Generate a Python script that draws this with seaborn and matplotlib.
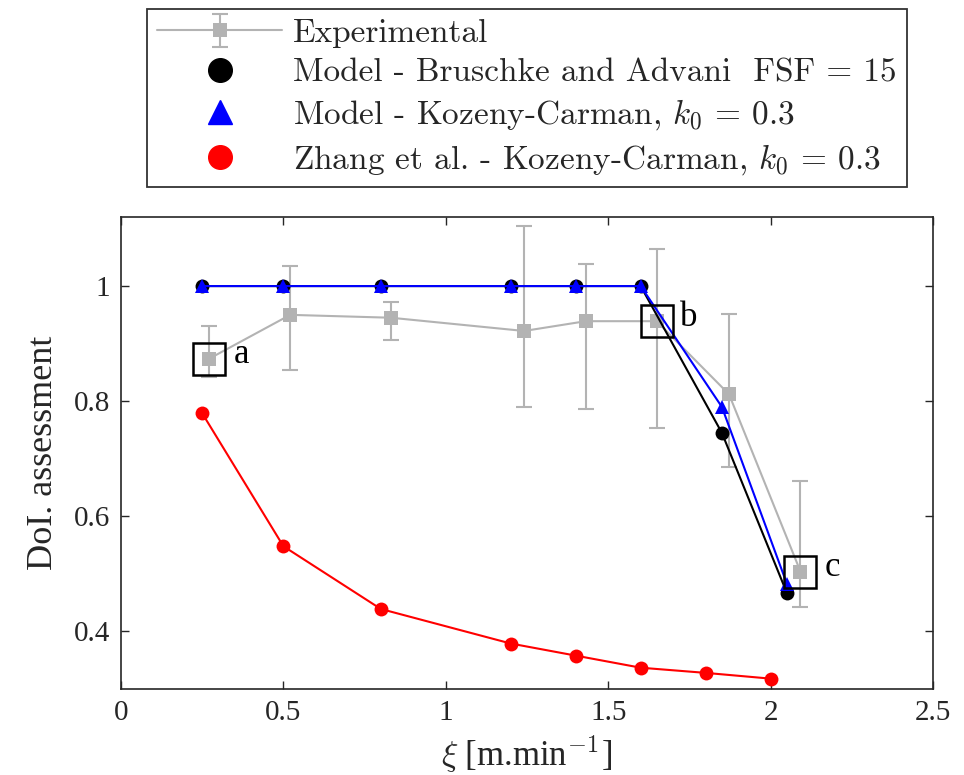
import numpy as np
import pandas as pd
import seaborn as sns
import matplotlib
matplotlib.use("Agg")
import matplotlib.pyplot as plt
from matplotlib.lines import Line2D

# ---------------- data ----------------
exp_x = [0.272, 0.521, 0.831, 1.241, 1.431, 1.649, 1.872, 2.092]
exp_y = [0.874, 0.950, 0.945, 0.922, 0.939, 0.939, 0.812, 0.504]
exp_lo = [0.842, 0.855, 0.906, 0.790, 0.787, 0.754, 0.685, 0.442]
exp_hi = [0.930, 1.035, 0.973, 1.104, 1.039, 1.064, 0.952, 0.662]

model_x = [0.25, 0.5, 0.8, 1.2, 1.4, 1.6, 1.85, 2.05]
bruschke_y = [1.0, 1.0, 1.0, 1.0, 1.0, 1.0, 0.745, 0.467]
kozeny_y = [1.0, 1.0, 1.0, 1.0, 1.0, 1.0, 0.790, 0.483]

zhang_x = [0.25, 0.5, 0.8, 1.2, 1.4, 1.6, 1.8, 2.0]
zhang_y = [0.779, 0.548, 0.439, 0.379, 0.358, 0.337, 0.328, 0.318]

mark_labels = ["a", "b", "c"]
mark_idx = [0, 5, 7]

xticks = [0, 0.5, 1, 1.5, 2, 2.5]
xtick_labels = ["0", "0.5", "1", "1.5", "2", "2.5"]
yticks = [0.4, 0.6, 0.8, 1.0]
ytick_labels = ["0.4", "0.6", "0.8", "1"]

legend_labels = [
    "Experimental",
    "Model - Bruschke and Advani  FSF = 15",
    "Model - Kozeny-Carman, $k_0$ = 0.3",
    "Zhang et al. - Kozeny-Carman, $k_0$ = 0.3",
]

# ---------------- style ----------------
sns.set_theme(style="ticks")
plt.rcParams["font.family"] = ["Liberation Serif", "DejaVu Serif"]
plt.rcParams["mathtext.fontset"] = "cm"
GRAY = "#b3b3b3"
TXT = "#262626"

fig = plt.figure(figsize=(9.64, 7.75), dpi=100)
ax = fig.add_axes([121 / 964, 1 - 689 / 775, 812 / 964, 472 / 775])

# experimental: error bars + line
yerr = [np.array(exp_y) - np.array(exp_lo), np.array(exp_hi) - np.array(exp_y)]
err = ax.errorbar(exp_x, exp_y, yerr=yerr, fmt="none", ecolor=GRAY,
                  elinewidth=1.5, capsize=6, capthick=1.5, zorder=2)
sns.lineplot(x=exp_x, y=exp_y, ax=ax, color=GRAY, marker="s", markersize=10,
             markeredgecolor=GRAY, markeredgewidth=0, linewidth=1.5, zorder=3)
exp_line = ax.lines[-1]

sns.lineplot(x=model_x, y=bruschke_y, ax=ax, color="black", marker="o",
             markersize=10, markeredgecolor="black", markeredgewidth=0,
             linewidth=1.5, zorder=4)
sns.lineplot(x=model_x, y=kozeny_y, ax=ax, color="#0000ff", marker="^",
             markersize=10, markeredgecolor="#0000ff", markeredgewidth=0,
             linewidth=1.5, zorder=5)
sns.lineplot(x=zhang_x, y=zhang_y, ax=ax, color="#ff0000", marker="o",
             markersize=10, markeredgecolor="#ff0000", markeredgewidth=0,
             linewidth=1.5, zorder=6)

# annotation boxes
bx = [exp_x[i] for i in mark_idx]
by = [exp_y[i] for i in mark_idx]
ax.plot(bx, by, ls="none", marker="s", markersize=23.5, markerfacecolor="none",
        markeredgecolor="black", markeredgewidth=1.8, zorder=7)
for lab, xv, yv in zip(mark_labels, bx, by):
    ax.annotate(lab, (xv, yv), xytext=(23, 3), textcoords="offset points",
                ha="center", va="center", fontsize=25, color="black",
                family="Liberation Serif")

# axes
ax.set_xlim(0, 2.5)
ax.set_ylim(0.3, 1.12)
ax.set_xticks(xticks)
ax.set_xticklabels(xtick_labels)
ax.set_yticks(yticks)
ax.set_yticklabels(ytick_labels)
ax.tick_params(direction="in", length=6, width=1, top=True, right=True,
               labelsize=21, colors=TXT, pad=8)
for s in ax.spines.values():
    s.set_linewidth(1.2)
    s.set_color(TXT)
ax.set_xlabel(r"$\xi$ [m.min$^{-1}$]", fontsize=25, color=TXT, labelpad=5)
ax.set_ylabel("DoI. assessment", fontsize=26, color=TXT, labelpad=10)

# legend
handles = [
    (err, exp_line),
    Line2D([], [], ls="none", marker="o", color="black", markersize=17),
    Line2D([], [], ls="none", marker="^", color="#0000ff", markersize=17),
    Line2D([], [], ls="none", marker="o", color="#ff0000", markersize=17),
]
leg = fig.legend(handles, legend_labels, loc="center",
                 bbox_to_anchor=((146 + 908) / 2 / 964, 1 - 98 / 775),
                 prop={"family": "cmr10", "size": 24}, frameon=True,
                 fancybox=False, edgecolor="#333333", framealpha=1,
                 handlelength=3.75, handletextpad=0.33, labelspacing=0.3,
                 borderpad=0.3, numpoints=1)
leg.get_frame().set_linewidth(1.3)

fig.savefig("out.png", dpi=100)
